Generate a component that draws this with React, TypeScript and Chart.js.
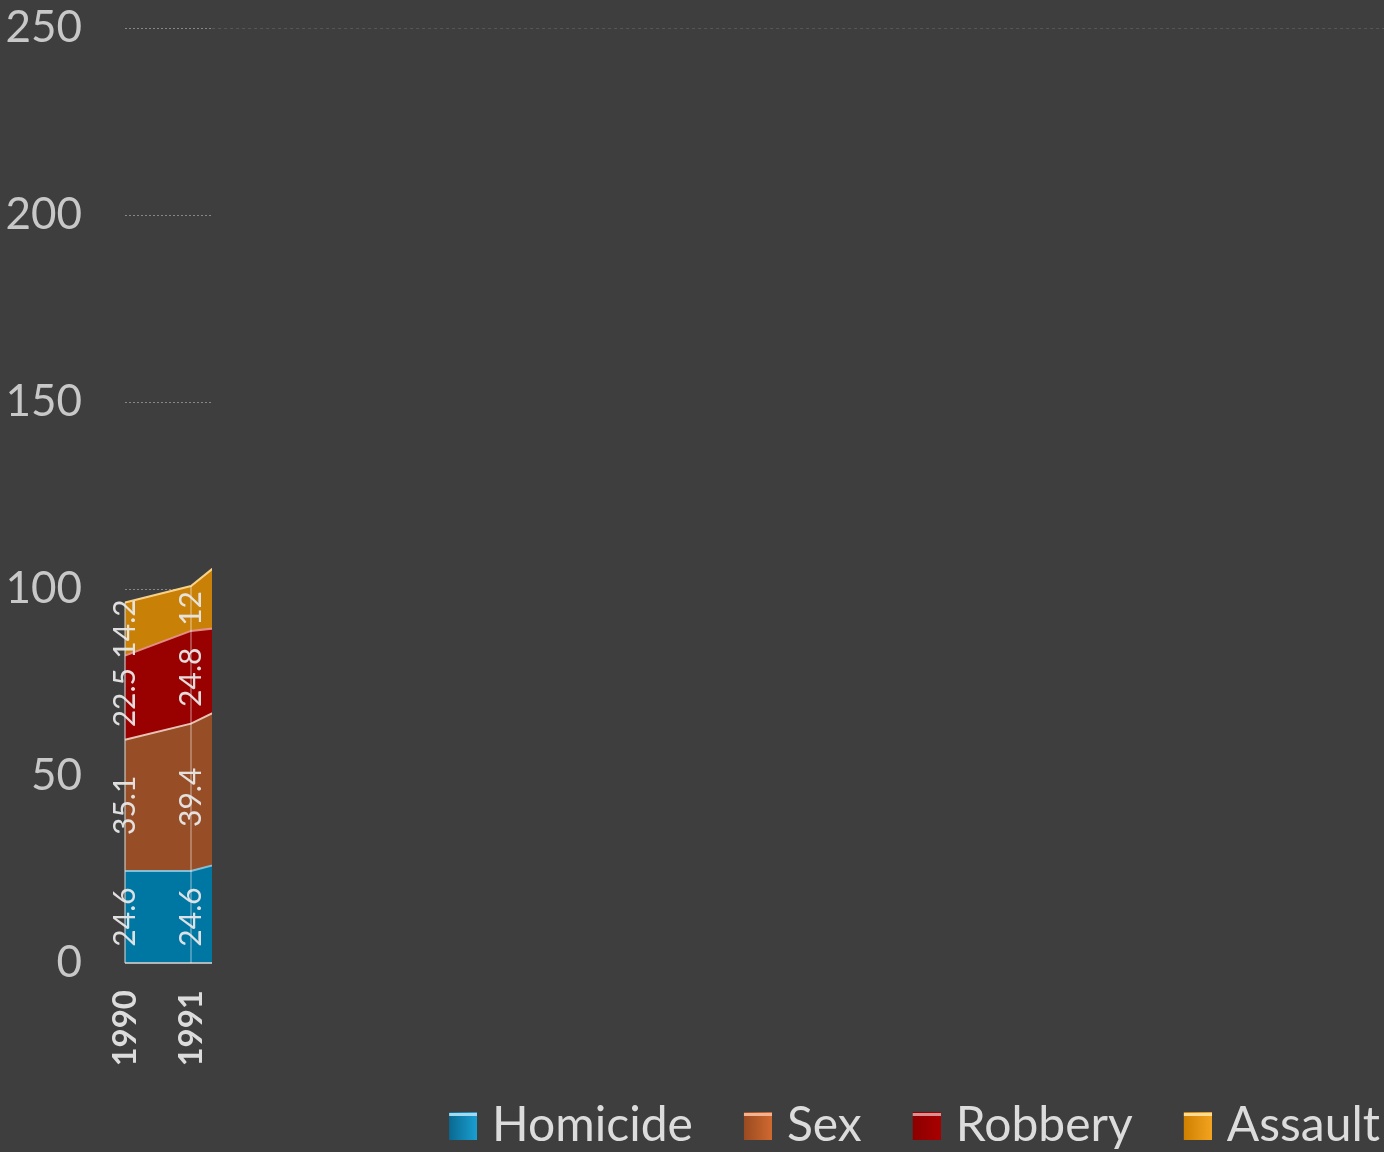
import React, { useEffect, useRef } from 'react';
import { Chart, registerables } from 'chart.js';

Chart.register(...registerables);

// ---- data ----
const years = [
  '1990', '1991', '1992', '1993', '1994', '1995', '1996', '1997', '1998', '1999',
  '2000', '2001', '2002', '2003', '2004', '2005', '2006', '2007', '2008', '2009',
];
const seriesNames = ['Homicide', 'Sex', 'Robbery', 'Assault'];
const homicide = [24.6, 24.6, 29.2, null, null, null, null, null, null, null, null, null, null, null, null, null, null, null, null, null];
const sex = [35.1, 39.4, 43.4, null, null, null, null, null, null, null, null, null, null, null, null, null, null, null, null, null];
const robbery = [22.5, 24.8, 18.1, null, null, null, null, null, null, null, null, null, null, null, null, null, null, null, null, null];
const assault = [14.2, 12, 24.3, null, null, null, null, null, null, null, null, null, null, null, null, null, null, null, null, null];
const yMin = 0;
const yMax = 250;
const yStep = 50;
// how far along the category axis the (animated) drawing has progressed
const revealPosition = 1.32;

// ---- styles ----
const BG = '#3e3e3e';
const fills = ['#0076a3', '#974d26', '#990000', '#c98007'];
const borders = ['rgba(140,200,225,0.9)', 'rgba(240,212,198,0.9)', 'rgba(235,150,150,0.9)', 'rgba(255,215,140,0.95)'];
const iconGrad = [
  ['#0a6a92', '#1aa0d2', '#a8d8ec'],
  ['#9a4a22', '#d0692f', '#f0b494'],
  ['#8c0000', '#a80000', '#d89090'],
  ['#d08000', '#f2a420', '#ffdc98'],
];
const FONT = 'Lato, "Open Sans", sans-serif';
const LEGEND_FONT = 48;
const ICON_BOX = 66; // pointStyleWidth
const ICON_W = ICON_BOX + 18;

function makeIcon(i: number): HTMLCanvasElement {
  const c = document.createElement('canvas');
  c.width = ICON_W;
  c.height = 28;
  const g = c.getContext('2d')!;
  const x0 = ICON_W - 28;
  const grad = g.createLinearGradient(x0, 0, x0 + 28, 0);
  grad.addColorStop(0, iconGrad[i][0]);
  grad.addColorStop(1, iconGrad[i][1]);
  g.fillStyle = grad;
  g.fillRect(x0, 0, 28, 28);
  g.fillStyle = iconGrad[i][2];
  g.fillRect(x0, 1, 28, 3);
  return c;
}

const seriesData = [homicide, sex, robbery, assault];

const revealPlugin = {
  id: 'revealPlugin',
  beforeDatasetsDraw(chart: any) {
    const { ctx, chartArea, scales } = chart;
    const x = scales.x;
    const y = scales.y;
    const clipX = x.getPixelForValue(revealPosition);
    ctx.save();
    // faint full-width top frame line
    const yTop = Math.round(y.getPixelForValue(yMax)) + 0.5;
    ctx.strokeStyle = 'rgba(255,255,255,0.13)';
    ctx.lineWidth = 1;
    ctx.setLineDash([3, 3]);
    ctx.beginPath();
    ctx.moveTo(clipX, yTop);
    ctx.lineTo(chart.width, yTop);
    ctx.stroke();
    // dotted grid lines (revealed part)
    ctx.strokeStyle = 'rgba(175,175,175,0.65)';
    ctx.setLineDash([2, 2]);
    for (const t of y.ticks) {
      if (t.value === yMin) continue;
      const py = Math.round(y.getPixelForValue(t.value)) + 0.5;
      ctx.beginPath();
      ctx.moveTo(chartArea.left, py);
      ctx.lineTo(clipX, py);
      ctx.stroke();
    }
    ctx.restore();
    ctx.save();
    ctx.beginPath();
    ctx.rect(chartArea.left - 3, chartArea.top - 6, clipX - chartArea.left + 3, chartArea.bottom - chartArea.top + 12);
    ctx.clip();
  },
  afterDatasetsDraw(chart: any) {
    const { ctx, chartArea, scales } = chart;
    const x = scales.x;
    const y = scales.y;
    const clipX = x.getPixelForValue(revealPosition);
    const y0 = y.getPixelForValue(0);
    // zero line
    ctx.strokeStyle = 'rgba(200,200,200,0.85)';
    ctx.lineWidth = 2;
    ctx.beginPath();
    ctx.moveTo(chartArea.left, y0);
    ctx.lineTo(clipX, y0);
    ctx.stroke();
    // vertical drop lines at each point
    for (let j = 0; j < years.length; j++) {
      if (seriesData[0][j] == null) continue;
      const px = x.getPixelForValue(j);
      if (px > clipX) continue;
      let total = 0;
      for (const s of seriesData) total += (s[j] as number) || 0;
      ctx.strokeStyle = j === 0 ? 'rgba(215,215,215,0.7)' : 'rgba(255,255,255,0.38)';
      ctx.lineWidth = 1.5;
      ctx.beginPath();
      ctx.moveTo(px, y0);
      ctx.lineTo(px, y.getPixelForValue(total));
      ctx.stroke();
    }
    ctx.restore();
    // value labels (not clipped on the left)
    ctx.save();
    ctx.fillStyle = 'rgba(232,232,232,0.95)';
    ctx.font = `30px ${FONT}`;
    ctx.textAlign = 'center';
    ctx.textBaseline = 'middle';
    for (let j = 0; j < years.length; j++) {
      const px = x.getPixelForValue(j);
      if (px > clipX) continue;
      let cum = 0;
      for (const s of seriesData) {
        const v = s[j];
        if (v == null) continue;
        const yc = (y.getPixelForValue(cum) + y.getPixelForValue(cum + v)) / 2;
        cum += v;
        ctx.save();
        ctx.translate(px, yc);
        ctx.rotate(-Math.PI / 2);
        ctx.fillText(String(v), 0, 0);
        ctx.restore();
      }
    }
    ctx.restore();
  },
};

export default function App() {
  const ref = useRef<HTMLCanvasElement>(null);
  useEffect(() => {
    document.body.style.margin = '0';
    document.body.style.background = BG;
    const icons = [0, 1, 2, 3].map(makeIcon);
    const chart = new Chart(ref.current!, {
      type: 'line',
      data: {
        labels: years,
        datasets: seriesData.map((d, i) => ({
          label: seriesNames[i],
          data: d,
          backgroundColor: fills[i],
          borderColor: borders[i],
          borderWidth: 2,
          pointRadius: 0,
          pointHoverRadius: 0,
          tension: 0,
          fill: i === 0 ? 'origin' : '-1',
        })),
      },
      options: {
        animation: false,
        responsive: false,
        maintainAspectRatio: false,
        layout: { padding: { top: 0, left: 0, right: 0, bottom: -8 } },
        scales: {
          x: {
            grid: { display: false, drawTicks: false },
            border: { display: false },
            ticks: {
              color: '#dcdcdc',
              font: { family: FONT, size: 33, weight: 'bold' },
              minRotation: 90,
              maxRotation: 90,
              autoSkip: false,
              padding: 27,
              callback: (_v: any, i: number) => (i <= Math.floor(revealPosition) ? years[i] : ''),
            },
            afterFit: (scale: any) => {
              scale.height = 135;
              scale.paddingLeft = 0;
              scale.paddingRight = 5;
            },
          },
          y: {
            stacked: true,
            min: yMin,
            max: yMax,
            grid: { display: false, drawTicks: false },
            border: { display: false },
            ticks: {
              stepSize: yStep,
              color: '#c8c8c8',
              font: { family: FONT, size: 44 },
              padding: 43,
            },
            afterFit: (scale: any) => {
              scale.width = 125;
              scale.paddingTop = 28;
              scale.paddingBottom = 0;
            },
          },
        },
        plugins: {
          tooltip: { enabled: false },
          legend: {
            position: 'bottom',
            align: 'end',
            labels: {
              color: '#dcdcdc',
              font: { family: FONT, size: LEGEND_FONT },
              usePointStyle: true,
              pointStyleWidth: ICON_BOX,
              padding: 4,
              generateLabels: (c: any) =>
                Chart.defaults.plugins.legend.labels.generateLabels(c).map((l: any, i: number) => ({
                  ...l,
                  pointStyle: icons[i],
                  fontColor: '#dcdcdc',
                })),
            },
          },
        },
      } as any,
      plugins: [revealPlugin],
    });
    return () => chart.destroy();
  }, []);
  return (
    <div style={{ width: 1384, height: 1152, background: BG, position: 'relative' }}>
      <canvas ref={ref} width={1384} height={1152} style={{ display: 'block' }} />
    </div>
  );
}
